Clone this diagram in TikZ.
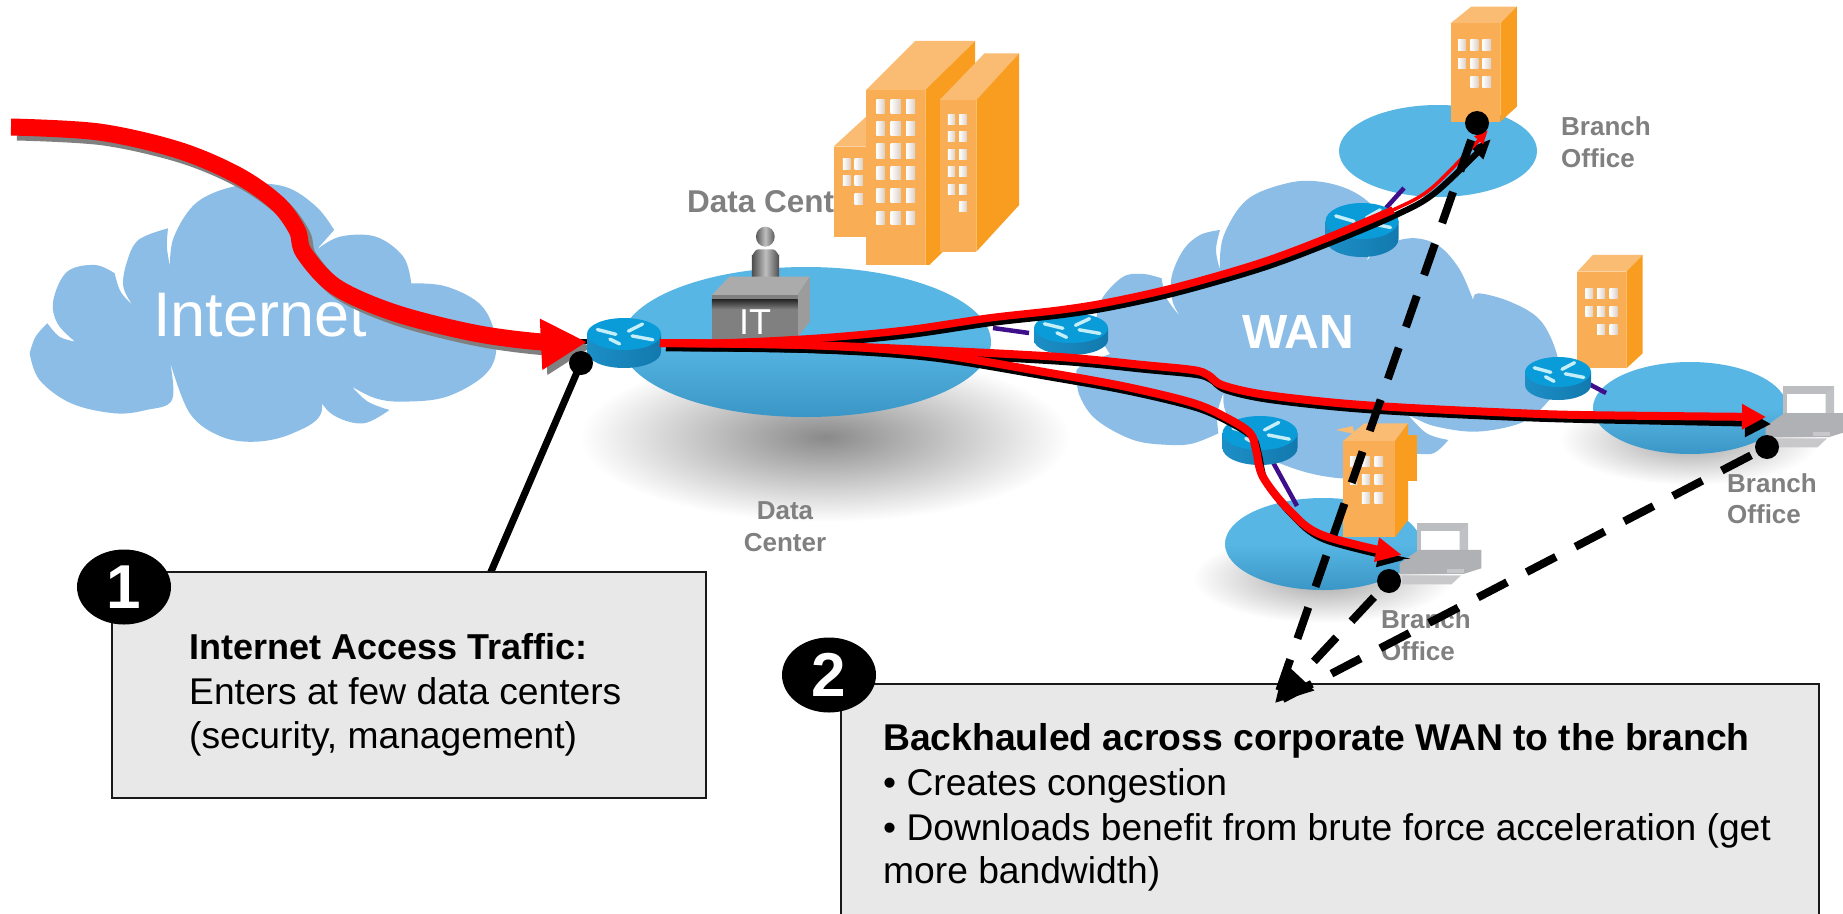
\documentclass[tikz,border=0pt]{standalone}
\usepackage{fontspec}
\setmainfont{Liberation Sans}
\usetikzlibrary{arrows.meta,shapes.geometric}
\definecolor{cloudc}{HTML}{8BBDE6}
\definecolor{lakec}{HTML}{57B6E3}
\definecolor{laked}{HTML}{3A96C6}
\definecolor{frontc}{HTML}{F9AE55}
\definecolor{sidec}{HTML}{F99D20}
\definecolor{topc}{HTML}{FABB72}
\definecolor{linkc}{HTML}{3F0E8B}
\definecolor{labelc}{HTML}{808080}
\definecolor{boxc}{HTML}{E8E8E8}
\definecolor{redc}{HTML}{FF0000}
\definecolor{pcc}{HTML}{B0B1B5}
\definecolor{routl}{HTML}{1C8FC6}
\definecolor{routm}{HTML}{8CCBEC}
\definecolor{routr}{HTML}{1279AE}
\definecolor{routt}{HTML}{0A9BD9}
\definecolor{routa}{HTML}{C4EEF9}
\definecolor{winr}{HTML}{DCCFC4}
\newcommand\fs[1]{\fontsize{#1}{#1}\selectfont}
\tikzset{
 zA/.style={shift={(0,80)},xscale=0.3954,yscale=0.3333},
 zB/.style={shift={(560,20)},xscale=0.4082,yscale=0.3333},
 zC/.style={shift={(1150,0)},xscale=0.4419,yscale=0.3333},
 zD/.style={shift={(1100,400)},xscale=0.4719,yscale=0.3333},
 zE/.style={shift={(1060,170)},xscale=0.3333,yscale=0.3333},
 lab/.style={anchor=base west,inner sep=0,text=labelc,font=\bfseries\fs{26}},
 labc/.style={anchor=base,inner sep=0,text=labelc,font=\bfseries\fs{26}},
 txt/.style={anchor=base west,inner sep=0,text=black,font=\fs{37.2}},
 txtb/.style={anchor=base west,inner sep=0,text=black,font=\bfseries\fs{37.3}},
 badge/.style={ellipse,fill=black,inner sep=0,minimum width=94pt,minimum height=75pt,text=white,font=\bfseries\fs{62}},
 callbox/.style={draw=black!90,line width=2.6pt,fill=boxc},
 spot/.style={circle,fill=black,inner sep=0,minimum size=24pt},
 lake/.style={top color=lakec,bottom color=laked,middle color=lakec},
 redflow/.style={draw=redc,line width=8pt},
 blackflow/.style={draw=black,line width=6pt},
 backhaul/.style={draw=black,line width=8pt,dash pattern=on 33pt off 22pt},
 wire/.style={draw=linkc,line width=4.5pt},
 front/.style={fill=frontc},side/.style={fill=sidec},roof/.style={fill=topc},
 winfill/.style={left color=white,right color=winr},
}
\newcommand\routerr[5]{% cx, top y, rx, ry, depth
 \begin{scope}[shift={(#1,#2)}]
 \shade[left color=routl,middle color=routm,right color=routr]
   (-#3,0) -- (-#3,#5) arc[start angle=180,end angle=0,x radius=#3,y radius=#4] -- (#3,0) -- cycle;
 \fill[routt] (0,0) ellipse[x radius=#3,y radius=#4];
 \begin{scope}[xscale=#3,yscale=#4]
 \draw[routa,line width=3.4pt,line cap=round]
   (-.72,-.28)--(-.22,.02) (.12,-.18)--(.5,-.62) (-.38,.32)--(-.12,.62) (.22,.12)--(.78,.36);
 \end{scope}
 \end{scope}}
\newcommand\winrows[2]{\foreach \a/\b in {#1}{\foreach \c/\d in {#2}{\shade[winfill] (\a,\c) rectangle (\b,\d);}}}
\newcommand\pc{%
 \fill[pcc!85!white] (672,370) rectangle (780,470);
 \fill[white] (680,392) rectangle (762,452);
 \fill[pcc!80!white] (762,392) -- (780,370) -- (780,470) -- (762,470) -- cycle;
 \fill[pcc] (635,490) -- (675,450) -- (808,450) -- (808,505) -- (770,522) -- (635,522) -- cycle;
 \fill[pcc!70!white] (735,508) rectangle (772,518);
 \fill[pcc!70!white] (640,526) -- (765,526) -- (745,553) -- (640,553) -- cycle;
}
\newcommand\flowupper[3]{\draw[#1] plot[smooth,tension=.55] coordinates {(#2) (723,343) (821,338) (907,330) (989,318) (1060,310) (1110,302) (1177,287) (1260,263) (1327,238) (1393,210) (1433,187) (#3)};}
\newcommand\flowuppera[2]{\draw[#1] plot[smooth,tension=.55] coordinates {(#2) (723,343) (821,338) (907,330) (989,318) (1060,310) (1110,302) (1177,287) (1260,263) (1327,238) (1393,210)};}
\newcommand\flowmid[3]{\draw[#1] plot[smooth,tension=.55] coordinates {(#2) (805,345) (927,350) (1060,357) (1143,365) (1193,370) (1208,375) (1222,385) (1260,394) (1327,402) (1393,407) (1493,412) (1580,415) (#3)};}
\newcommand\flowlow[3]{\draw[#1] plot[smooth,tension=.55] coordinates {(#2) (805,345) (927,353) (1050,373) (1127,387) (1193,403) (1227,418) (1250,433) (1256,450) (1263,477) (1289,510) (1322,535) (#3)};}
\begin{document}
\begin{tikzpicture}[x=1pt,y=-1pt]
\useasboundingbox (0,0) rectangle (1843,913);
\fill[white] (0,0) rectangle (1843,913);
% shadows
\shade[inner color=black!46,outer color=white] (825,437) ellipse[x radius=245,y radius=85];
\shade[inner color=black!36,outer color=white] (1690,440) ellipse[x radius=130,y radius=45];
\shade[inner color=black!36,outer color=white] (1323,578) ellipse[x radius=130,y radius=45];
% Internet cloud
\begin{scope}[zA]
\fill[cloudc] plot[smooth,tension=.6] coordinates {(75,820) (90,770) (120,730)} -- plot[smooth,tension=.6] coordinates {(120,730) (150,770) (190,785)}
 -- plot[smooth,tension=.6] coordinates {(190,785) (145,730) (135,660) (170,575) (240,555) (290,580)}
 -- plot[smooth,tension=.6] coordinates {(290,580) (305,635) (335,675)}
 -- plot[smooth,tension=.6] coordinates {(335,675) (312,620) (320,550) (350,480) (425,445)}
 -- plot[smooth,tension=.6] coordinates {(425,445) (422,500) (430,560)}
 -- plot[smooth,tension=.6] coordinates {(430,560) (440,470) (500,365) (610,315) (720,320) (800,380) (845,450)}
 -- (800,510)
 -- plot[smooth,tension=.6] coordinates {(800,510) (860,470) (950,470) (1020,530) (1040,610)}
 -- plot[smooth,tension=.6] coordinates {(1040,610) (1130,620) (1220,680) (1255,790) (1230,880) (1130,950) (1020,965) (950,955) (890,920)}
 -- plot[smooth,tension=.6] coordinates {(890,920) (930,965) (985,990)}
 -- plot[smooth,tension=.6] coordinates {(985,990) (920,1030) (850,1010) (810,960) (800,880)}
 -- plot[smooth,tension=.6] coordinates {(800,880) (812,1000) (740,1060) (650,1085) (560,1070) (480,1000) (430,845)}
 -- plot[smooth,tension=.6] coordinates {(430,845) (435,960) (370,990) (290,1000) (180,970) (100,900) (75,820)} -- cycle;
\end{scope}
\node[anchor=base west,inner sep=0,text=white,font=\fs{63}] (inet) at (153,336) {Internet};
% WAN cloud
\begin{scope}[zE]
\fill[cloudc] plot[smooth,tension=.6] coordinates {(480,300) (490,200) (560,90) (680,40) (780,35) (880,65) (950,125) (950,200) (925,260) (908,312)}
 -- plot[smooth,tension=.6] coordinates {(908,312) (920,275) (950,240) (1000,215) (1070,205) (1140,230) (1200,300) (1240,392)}
 -- plot[smooth,tension=.6] coordinates {(1240,392) (1255,370) (1350,395) (1440,450) (1490,550) (1495,640) (1450,710) (1380,760) (1250,785) (1130,770) (1065,745) (1045,735)}
 -- plot[smooth,tension=.6] coordinates {(1045,735) (1100,790) (1165,810)}
 -- plot[smooth,tension=.6] coordinates {(1165,810) (1120,850) (1050,855) (1000,900) (900,925) (800,920) (700,895) (600,850) (530,780) (495,720) (490,670)}
 -- plot[smooth,tension=.6] coordinates {(490,670) (472,730) (475,790)}
 -- plot[smooth,tension=.6] coordinates {(475,790) (400,820) (330,825) (220,810) (110,750) (60,680) (50,620) (60,590) (150,552)}
 -- plot[smooth,tension=.6] coordinates {(150,552) (120,500) (110,440) (130,380) (190,320) (250,312) (305,325)}
 -- plot[smooth,tension=.6] coordinates {(305,325) (320,385) (365,445)}
 -- plot[smooth,tension=.6] coordinates {(365,445) (338,395) (335,320) (370,240) (420,195) (480,180)}
 -- plot[smooth,tension=.6] coordinates {(480,180) (468,240) (480,300)} -- cycle;
\end{scope}
\node[anchor=base west,inner sep=0,text=white,font=\bfseries\fs{48}] (wan) at (1242,348) {WAN};
% lakes
\shade[lake] (806,342) ellipse[x radius=185,y radius=75];
\fill[lakec] (1438,151) ellipse[x radius=99,y radius=46];
\shade[lake] (1690,408) ellipse[x radius=97,y radius=46];
\shade[lake] (1323,544) ellipse[x radius=98,y radius=46];
% labels
\node[lab,font=\bfseries\fs{31.5}] (dctop) at (687,212) {Data Center};
\node[labc] (dc1) at (785,519) {Data};
\node[labc] (dc2) at (785,551) {Center};
\node[lab] (b1a) at (1561,135) {Branch};
\node[lab] (b1b) at (1561,167) {Office};
\node[lab] (b2a) at (1727,492) {Branch};
\node[lab] (b2b) at (1727,523) {Office};
\node[lab] (b3a) at (1381,628) {Branch};
\node[lab] (b3b) at (1381,660) {Office};
% data-center buildings
\begin{scope}[zB]
\fill[front] (670,380) rectangle (755,650);
\fill[roof] (670,380) -- (750,290) -- (760,380) -- cycle;
\winrows{693/712,722/742}{415/448,467/497}
\shade[winfill] (722,520) rectangle (742,553);
\fill[roof] (750,210) -- (870,63) -- (1017,63) -- (895,210) -- cycle;
\fill[side] (895,210) -- (1017,63) -- (1017,600) -- (905,735) -- (895,735) -- cycle;
\fill[front] (750,210) rectangle (895,735);
\winrows{775/795,810/835,848/870}{240/280,305/348,372/415,440/480,507/548,575/615}
\fill[roof] (930,240) -- (1040,100) -- (1125,100) -- (1020,240) -- cycle;
\fill[side] (1020,240) -- (1125,100) -- (1125,555) -- (1020,695) -- cycle;
\fill[front] (930,240) rectangle (1020,695);
\winrows{950/968,978/997}{285/315,335/365,388/418,440/470,495/525}
\shade[winfill] (978,545) rectangle (997,575);
% IT person and desk
\shade[left color=black!65,right color=black!65,middle color=black!25] (503,650) ellipse[x radius=23,y radius=30];
\shade[left color=black!70,right color=black!70,middle color=black!25] (470,775) -- (470,705) to[out=-90,in=180] (485,688) -- (522,688) to[out=0,in=-90] (537,705) -- (537,775) -- cycle;
\fill[black!33] (372,825) -- (415,770) -- (612,770) -- (582,825) -- cycle;
\fill[black!39] (582,825) -- (612,770) -- (612,905) -- (580,955) -- cycle;
\fill[black!50] (372,825) rectangle (582,958);
\shade[top color=black!85,bottom color=black!50] (372,838) rectangle (582,868);
\node[inner sep=0,text=white,font=\fs{36}] (itlab) at (478,905) {IT};
\end{scope}
% branch buildings
\begin{scope}[zC]
\fill[roof] (680,70) -- (727,20) -- (830,20) -- (793,70) -- cycle;
\fill[side] (793,70) -- (830,20) -- (830,320) -- (793,365) -- cycle;
\fill[front] (680,70) rectangle (793,365);
\winrows{697/715,725/743,752/772}{120/152,175/207}
\winrows{725/743,752/772}{230/262}
\fill[roof] (967,815) -- (1002,765) -- (1115,765) -- (1078,815) -- cycle;
\fill[side] (1078,815) -- (1115,765) -- (1115,1060) -- (1078,1105) -- cycle;
\fill[front] (967,815) rectangle (1078,1105);
\winrows{985/1003,1012/1030,1040/1058}{865/895,920/950}
\winrows{1012/1030,1040/1058}{975/1005}
\end{scope}
\begin{scope}[zD]
\fill[side] (640,105) -- (672,105) -- (672,242) -- (640,242) -- cycle;
\fill[roof] (500,90) -- (535,78) -- (540,102) -- cycle;
\fill[roof] (515,123) -- (560,70) -- (653,70) -- (625,123) -- cycle;
\fill[side] (625,123) -- (653,70) -- (653,360) -- (625,412) -- cycle;
\fill[front] (515,123) rectangle (625,412);
\winrows{530/545,555/572,582/600}{168/200,222/254}
\winrows{555/572,582/600}{278/310}
\end{scope}
% computers
\begin{scope}[zD]\pc\end{scope}
\begin{scope}[zD,shift={(775.6,-411)}]\pc\end{scope}
% wires
\coordinate (wA1) at (993,328); \coordinate (wA2) at (1029,333);
\coordinate (wB1) at (1404,188); \coordinate (wB2) at (1386,208);
\coordinate (wC1) at (1587,383); \coordinate (wC2) at (1606,393);
\coordinate (wD1) at (1269,455); \coordinate (wD2) at (1297,506);
\draw[wire] (wA1) -- (wA2);
\draw[wire] (wB1) -- (wB2);
\draw[wire] (wC1) -- (wC2);
\draw[wire] (wD1) -- (wD2);
% big inbound arrow
\coordinate (bigS) at (11,127); \coordinate (bigE) at (587,342);
\coordinate (bigSs) at (17,132); \coordinate (bigEs) at (592,347);
\coordinate (stubA) at (575,341); \coordinate (stubB) at (596,341);
\draw[black,line width=5pt] (stubA) -- (stubB);
\draw[labelc,line width=17pt,-{Triangle[length=46pt,width=48pt]}] plot[smooth,tension=.55] coordinates {(bigSs) (104,137) (183,155) (242,180) (282,208) (302,235) (309,258) (341,292) (400,318) (479,338) (547,347) (bigEs)};
\draw[redc,line width=17pt,-{Triangle[length=46pt,width=48pt]}] plot[smooth,tension=.55] coordinates {(bigS) (99,132) (178,150) (237,175) (277,203) (297,230) (304,253) (336,287) (395,313) (474,333) (542,342) (bigE)};
% routers
\routerr{624}{334}{37}{16}{18}
\routerr{1071}{328}{37}{15}{12}
\routerr{1362}{221}{36.5}{18}{18}
\routerr{1558}{372}{33}{15}{13}
\routerr{1260}{433}{37.5}{17}{15}
% flows
\coordinate (srcR) at (660,343); \coordinate (srcK) at (666,348);
\coordinate (tipT) at (1488,130); \coordinate (tipTk) at (1491,139);
\coordinate (tipM) at (1766,417); \coordinate (tipMk) at (1771,424);
\coordinate (tipL) at (1402,555); \coordinate (tipLk) at (1404,560);
\begin{scope}[shift={(3,5)}]
\flowupper{blackflow,-{Triangle[length=20pt,width=16pt]}}{srcK}{tipTk}
\flowmid{blackflow,-{Triangle[length=26pt,width=26pt]}}{srcK}{tipMk}
\flowlow{blackflow,-{Triangle[length=26pt,width=24pt]}}{srcK}{tipLk}
\end{scope}
\flowupper{redflow,line width=3.5pt,-{Triangle[length=14pt,width=11pt]}}{srcR}{tipT}
\flowuppera{redflow,line width=7.5pt}{srcR}
\flowmid{redflow,-{Triangle[length=24pt,width=24pt]}}{srcR}{tipM}
\flowlow{redflow,-{Triangle[length=26pt,width=23pt]}}{srcR}{tipL}
% callout 1
\node[spot] (d1) at (581,363) {};
\coordinate (c1) at (490,574);
\draw[black,line width=7pt] (d1.center) -- (c1);
% boxes
\path[callbox] (112,572) rectangle (706,798);
\path[callbox] (841,684) rectangle (1819,925);
\node[badge] (n1) at (124,587) {1};
\node[badge] (n2) at (829,675) {2};
\node[txtb,font=\bfseries\fs{36}] (t1) at (189,659) {Internet Access Traffic:};
\node[txt] (t2) at (189,704) {Enters at few data centers};
\node[txt] (t3) at (189,748) {(security, management)};
\node[txtb] (u1) at (883,750) {Backhauled across corporate WAN to the branch};
\node[txt] (u2) at (883,795) {• Creates congestion};
\node[txt] (u3) at (883,840) {• Downloads benefit from brute force acceleration (get};
\node[txt] (u4) at (883,883) {more bandwidth)};
% backhaul lines
\node[spot] (dT) at (1477,123) {};
\node[spot] (dB) at (1389,581) {};
\node[spot] (dR) at (1767,447) {};
\coordinate (hub) at (1275,703);
\draw[backhaul,dash phase=37pt] (dT.center) -- (hub);
\draw[backhaul,dash phase=33pt,-{Triangle[length=36pt,width=38pt]}] (dB.center) -- (hub);
\draw[backhaul,dash phase=37pt] (dR.center) -- (hub);
\end{tikzpicture}
\end{document}
